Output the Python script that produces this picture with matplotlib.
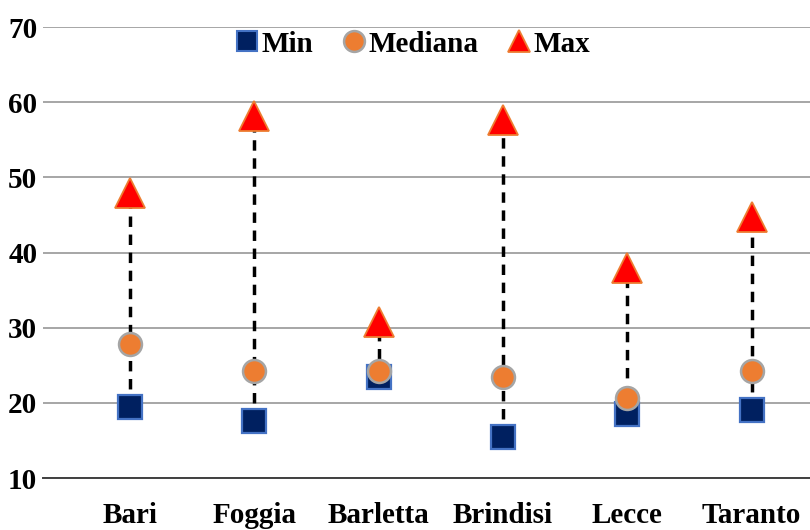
import matplotlib

matplotlib.use("Agg")
import matplotlib.pyplot as plt
from matplotlib.lines import Line2D

# Province summary values (min / median / max)
provinces = ["Bari", "Foggia", "Barletta", "Brindisi", "Lecce", "Taranto"]
min_vals = [19.5, 17.6, 23.4, 15.5, 18.5, 19.1]
median_vals = [27.9, 24.2, 24.3, 23.5, 20.6, 24.3]
max_vals = [47.9, 58.2, 30.8, 57.6, 38.0, 44.7]
y_ticks = [10, 20, 30, 40, 50, 60, 70]

plt.rcParams["font.family"] = ["Liberation Serif", "DejaVu Serif"]
plt.rcParams["font.weight"] = "bold"
plt.rcParams["lines.scale_dashes"] = False

fig = plt.figure(figsize=(8.1, 5.3), dpi=100)
ax = fig.add_axes([0.053, 0.098, 0.947, 0.851])

xs = list(range(len(provinces)))

# dashed range bars behind the markers
for x, lo, hi in zip(xs, min_vals, max_vals):
    ax.plot([x, x], [lo, hi], color="black", lw=2.5,
            dashes=(7.5, 5.5), zorder=2)

ax.plot(xs, min_vals, ls="none", marker="s", ms=17, mfc="#002060",
        mec="#4472C4", mew=1.6, zorder=3)
ax.plot(xs, median_vals, ls="none", marker="o", ms=16.5, mfc="#ED7D31",
        mec="#A5A5A5", mew=1.8, zorder=4)
ax.plot(xs, max_vals, ls="none", marker="^", ms=21.5, mfc="#FF0000",
        mec="#ED7D31", mew=1.3, zorder=4)

ax.set_xlim(-0.70, 5.47)
ax.set_ylim(10, 70)
ax.set_yticks(y_ticks)
ax.set_xticks(xs)
ax.set_xticklabels(provinces)
ax.tick_params(axis="both", length=0, labelsize=21)
ax.tick_params(axis="x", pad=17)
ax.tick_params(axis="y", pad=4)

ax.grid(axis="y", color="#A6A6A6", lw=1.4)
ax.set_axisbelow(True)
for side in ("top", "right", "left"):
    ax.spines[side].set_visible(False)
ax.spines["bottom"].set_color("#404040")
ax.spines["bottom"].set_linewidth(1.4)

handles = [
    Line2D([], [], ls="none", marker="s", ms=15, mfc="#002060",
           mec="#4472C4", mew=1.5),
    Line2D([], [], ls="none", marker="o", ms=15, mfc="#ED7D31",
           mec="#A5A5A5", mew=1.8),
    Line2D([], [], ls="none", marker="^", ms=16, mfc="#FF0000",
           mec="#ED7D31", mew=1.3),
]
ax.legend(handles, ["Min", "Mediana", "Max"], ncol=3, frameon=False,
          loc="center", bbox_to_anchor=(0.482, 0.962), fontsize=21,
          handlelength=0.8, handletextpad=0.1, columnspacing=1.0,
          borderpad=0)

fig.savefig("out.png", dpi=100)
